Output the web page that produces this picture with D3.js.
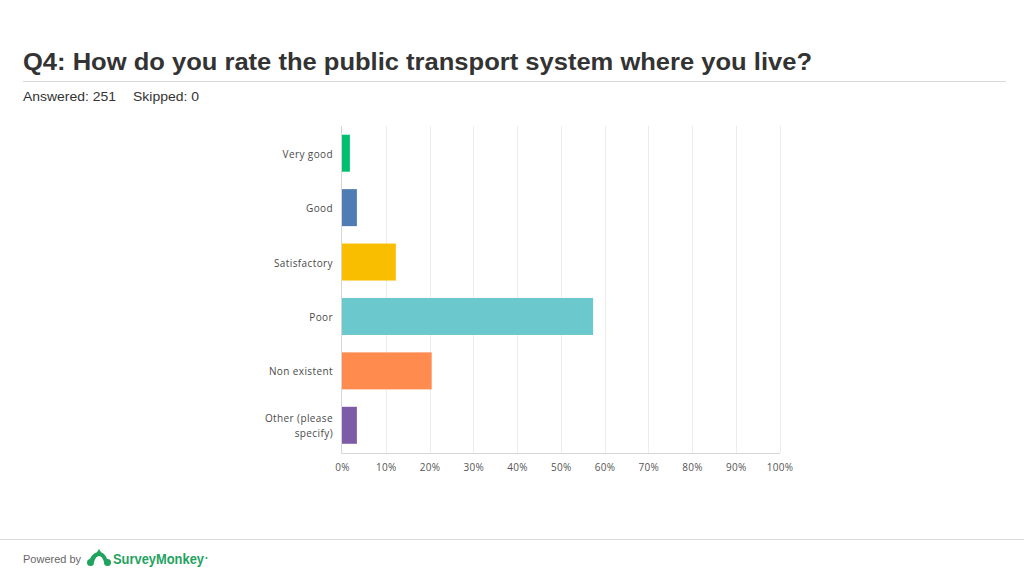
<!DOCTYPE html>
<html>
<head>
<meta charset="utf-8">
<script src="https://cdn.jsdelivr.net/npm/d3@7"></script>
<style>
  html, body { margin: 0; padding: 0; background: #fff; }
  svg { display: block; }
</style>
</head>
<body>
<svg id="chart" width="1024" height="576"></svg>
<script>
const categories = ["Very good", "Good", "Satisfactory", "Poor", "Non existent", "Other (please specify)"];
const categoryLines = [["Very good"], ["Good"], ["Satisfactory"], ["Poor"], ["Non existent"], ["Other (please", "specify)"]];
const values = [1.8, 3.4, 12.3, 57.4, 20.5, 3.4];
const barColors = ["#00BF6F", "#507CB6", "#F9BE00", "#6BC8CD", "#FF8B4F", "#7D5BA6"];
const xTicks = [0, 10, 20, 30, 40, 50, 60, 70, 80, 90, 100];
const titleText = "Q4: How do you rate the public transport system where you live?";
const answered = "Answered: 251";
const skipped = "Skipped: 0";

const svg = d3.select("#chart");

// Header
svg.append("text").attr("x", 23).attr("y", 70)
  .attr("font-family", "Liberation Sans, Arial, sans-serif")
  .attr("font-weight", "bold").attr("font-size", 23).attr("fill", "#333")
  .attr("textLength", 789).attr("lengthAdjust", "spacingAndGlyphs")
  .text(titleText);
svg.append("line").attr("x1", 23).attr("x2", 1006).attr("y1", 81.5).attr("y2", 81.5)
  .attr("stroke", "#d9d9d9").attr("stroke-width", 1);
svg.append("text").attr("x", 23).attr("y", 101)
  .attr("font-family", "Liberation Sans, Arial, sans-serif")
  .attr("font-size", 13.5).attr("fill", "#333")
  .attr("textLength", 93).attr("lengthAdjust", "spacingAndGlyphs").text(answered);
svg.append("text").attr("x", 133).attr("y", 101)
  .attr("font-family", "Liberation Sans, Arial, sans-serif")
  .attr("font-size", 13.5).attr("fill", "#333")
  .attr("textLength", 66).attr("lengthAdjust", "spacingAndGlyphs").text(skipped);

// Chart
const x = d3.scaleLinear().domain([0, 100]).range([342, 779.5]);
const y = d3.scaleBand().domain(categories).range([126, 452.5]).paddingInner(0.32).paddingOuter(0.16);

const g = svg.append("g");
g.selectAll("line.grid").data(xTicks.slice(1)).join("line")
  .attr("class", "grid")
  .attr("x1", d => Math.round(x(d)) + 0.5).attr("x2", d => Math.round(x(d)) + 0.5)
  .attr("y1", 126).attr("y2", 453)
  .attr("stroke", "#ececec").attr("stroke-width", 1);

g.selectAll("rect.bar").data(values).join("rect")
  .attr("class", "bar")
  .attr("x", x(0))
  .attr("y", (d, i) => y(categories[i]))
  .attr("width", d => x(d) - x(0))
  .attr("height", y.bandwidth())
  .attr("fill", (d, i) => barColors[i]);

g.append("line").attr("x1", 341.5).attr("x2", 341.5).attr("y1", 126).attr("y2", 453.5)
  .attr("stroke", "#d6d6d6");
g.append("line").attr("x1", 341.5).attr("x2", 780).attr("y1", 453.5).attr("y2", 453.5)
  .attr("stroke", "#d6d6d6");

const xAxis = d3.axisBottom(x).tickValues(xTicks).tickSize(0).tickPadding(0).tickFormat(d => d + "%");
const xa = svg.append("g").attr("transform", "translate(0,463.5)").call(xAxis);
xa.select(".domain").remove();
xa.selectAll("text").attr("font-family", "'Open Sans', sans-serif")
  .attr("font-size", 10).attr("letter-spacing", 0.3).attr("fill", "#555").attr("dy", "0.71em");

const yl = svg.append("g");
categories.forEach((c, i) => {
  const lines = categoryLines[i];
  const cy = y(c) + y.bandwidth() / 2 + 1;
  const lh = 15;
  const t = yl.append("text")
    .attr("text-anchor", "end")
    .attr("font-family", "'Open Sans', sans-serif")
    .attr("font-size", 10).attr("letter-spacing", 0.4).attr("fill", "#4a4a4a");
  lines.forEach((ln, j) => {
    t.append("tspan").attr("x", 333)
      .attr("y", cy + (j - (lines.length - 1) / 2) * lh)
      .attr("dy", "0.35em").text(ln);
  });
});

// Footer
svg.append("line").attr("x1", 0).attr("x2", 1024).attr("y1", 539.5).attr("y2", 539.5)
  .attr("stroke", "#d9d9d9");
svg.append("text").attr("x", 23).attr("y", 563)
  .attr("font-family", "Liberation Sans, Arial, sans-serif")
  .attr("font-size", 11).attr("fill", "#666").text("Powered by");
const logo = svg.append("g").attr("transform", "translate(87,549)").attr("fill", "#1fa35f");
logo.append("path").attr("d", "M2,13 C3,7 8,3 12,3 C16,3 20,7 21,13 L17,13 C16,9 14,7 12,7 C10,7 8,9 7,13 Z");
logo.append("circle").attr("cx", 3.5).attr("cy", 13.5).attr("r", 3.5);
logo.append("circle").attr("cx", 20.5).attr("cy", 13.5).attr("r", 3.5);
logo.append("path").attr("d", "M9.5,4 L12,0 L14.5,4 Z");
svg.append("text").attr("x", 113).attr("y", 564)
  .attr("font-family", "Liberation Sans, Arial, sans-serif")
  .attr("font-weight", "bold").attr("font-size", 14).attr("fill", "#1fa35f")
  .attr("textLength", 91).attr("lengthAdjust", "spacingAndGlyphs")
  .text("SurveyMonkey");
svg.append("circle").attr("cx", 206.5).attr("cy", 558).attr("r", 1).attr("fill", "#1fa35f");
</script>
</body>
</html>
